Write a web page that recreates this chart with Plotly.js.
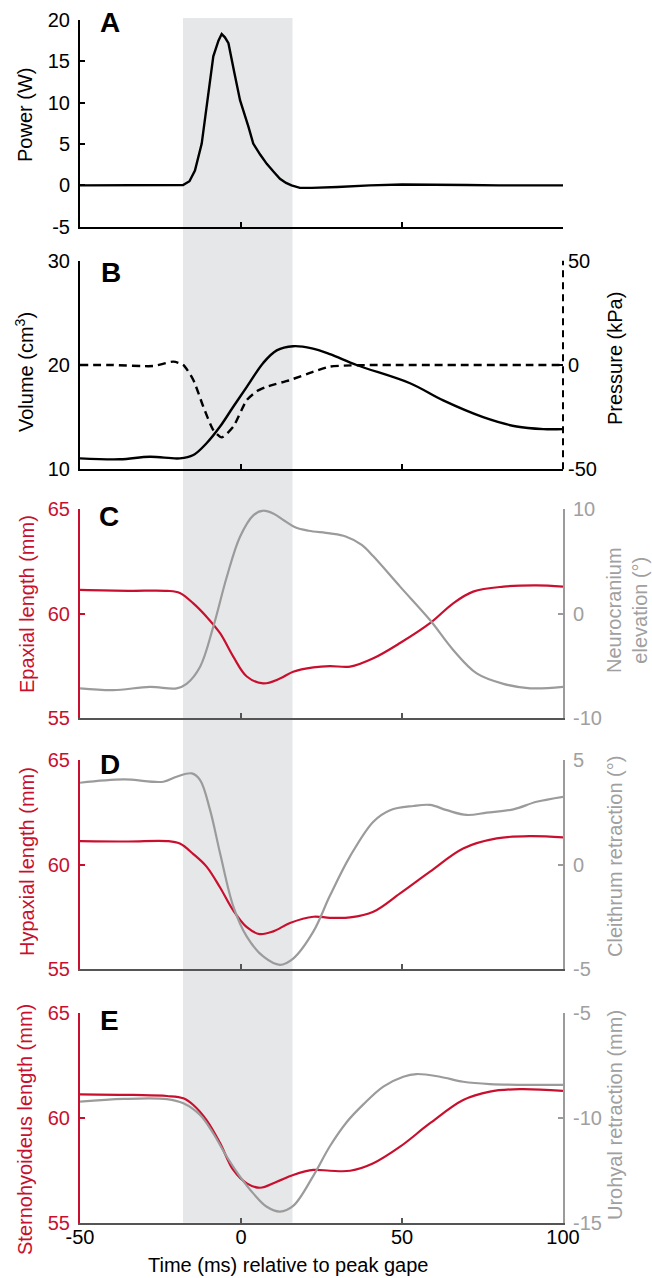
<!DOCTYPE html>
<html>
<head>
<meta charset="utf-8">
<script src="https://cdn.plot.ly/plotly-3.0.1.min.js"></script>
<style>html,body{margin:0;padding:0;background:#fff;}#chart{width:652px;height:1278px;}</style>
</head>
<body>
<div id="chart"></div>
<script>
// ---------- data ----------
// Panel A: power (W)
const tA = [-50,-40,-30,-20,-18,-16,-14.3,-12.2,-10,-8.6,-7,-6,-5,-3.9,-2,-0.3,2.3,3.8,6,8,10,12.1,14,15.7,18.3,22,30,40,50,60,70,80,90,100];
const powerW = [0,0,0,0,0.05,0.5,1.8,5.05,11.5,15.6,17.5,18.3,17.9,17.2,13.5,10.3,7.1,5.05,3.7,2.6,1.7,0.8,0.3,0,-0.3,-0.3,-0.2,0,0.1,0.1,0.05,0,0,0];
// Panel B: volume (cm3) and pressure (kPa)
const tVol = [-50,-37.6,-28.3,-19,-14.8,-10.7,-6.5,-2.4,1.8,6.9,11.1,16.2,22,27.6,35.9,52.5,62.8,75.2,85.6,93.9,100];
const volume = [11.05,10.96,11.2,11.05,11.37,12.5,14.1,16.0,17.9,20.2,21.4,21.8,21.6,21.05,20.0,18.25,16.6,15.0,14.1,13.85,13.85];
const tPres = [-50,-40,-27.3,-21,-17.9,-14.8,-11.7,-8.6,-6,-2.4,1.8,5,8,15.2,22.5,27.6,32,40,50,60,70,80,90,100];
const pressure = [0,0,-0.5,1.6,0,-7.2,-20,-31.2,-34.7,-29.6,-16.8,-12.5,-10.4,-7.2,-3.2,-0.8,-0.3,0,0,0,0,0,0,0];
// Panel C: epaxial length (mm), neurocranium elevation (deg)
const tEpax = [-50,-35,-23,-19,-14.8,-10.7,-6.5,-2.4,1.8,6.9,12.1,16.2,22.5,27.6,33.9,41.1,49.4,58.7,65.9,72.1,81.5,91.8,100];
const epaxial = [61.14,61.1,61.1,61.0,60.5,59.86,59.07,57.95,57.0,56.67,56.9,57.23,57.44,57.5,57.47,57.87,58.6,59.55,60.5,61.06,61.3,61.36,61.3];
const tNeuro = [-50,-39.7,-28.3,-20,-16.9,-12.7,-8.6,-4.4,-0.3,3.9,6.9,10,13.5,17,21,27.6,32.5,37.5,41.1,49.4,58.7,65.9,73.2,81.5,89.8,100];
const neuro = [-7.13,-7.3,-7.0,-7.13,-6.7,-5.06,-1.23,3.55,7.38,9.45,9.87,9.6,8.9,8.25,7.95,7.7,7.4,6.6,5.5,2.6,-0.6,-3.46,-5.7,-6.7,-7.13,-7.0];
// Panel D: hypaxial length (mm), cleithrum retraction (deg)
const tHypax = [-50,-35,-23,-19,-14.8,-10.7,-6.5,-2.4,1.8,5.8,10,15.2,22.5,27.6,33.9,41.1,49.4,58.7,69,79.4,89.8,100];
const hypaxial = [61.12,61.1,61.12,61.0,60.5,59.9,58.9,57.8,57.0,56.67,56.8,57.2,57.5,57.45,57.47,57.74,58.62,59.66,60.77,61.25,61.36,61.3];
const tCleith = [-50,-36.5,-24.1,-20,-15.3,-12.7,-9.6,-6.5,-2.4,1.8,6.9,12.1,16.2,22.5,27.6,33.9,41.1,46.3,53.5,58.7,63.9,70.1,76.3,84.6,91.8,100];
const cleithrum = [3.91,4.07,3.96,4.2,4.36,4.04,2.6,0.54,-2.0,-3.45,-4.4,-4.8,-4.5,-3.2,-1.5,0.4,2.05,2.6,2.8,2.85,2.6,2.37,2.48,2.64,3.0,3.24];
// Panel E: sternohyoideus length (mm), urohyal retraction (mm)
const tStern = [-50,-33.4,-23,-17.9,-14.8,-10.7,-6.5,-2.4,1.8,5.9,11.1,16.2,22.5,27.6,33.9,41.1,49.4,58.7,69,77.3,86.6,100];
const sterno = [61.13,61.1,61.05,60.94,60.62,59.9,58.8,57.52,56.88,56.67,56.96,57.28,57.52,57.48,57.48,57.84,58.63,59.75,60.86,61.26,61.38,61.3];
const tUro = [-50,-36.5,-23,-17.9,-12.7,-8.6,-4.4,-0.3,3.8,8.0,12.1,16.2,22.5,27.6,32.8,38,44.2,50.4,54.5,61.8,69,77.3,100];
const urohyal = [-9.22,-9.09,-9.1,-9.3,-9.86,-10.74,-11.85,-12.8,-13.6,-14.24,-14.47,-14.2,-12.75,-11.35,-10.2,-9.35,-8.5,-8.03,-7.9,-8.03,-8.27,-8.38,-8.42];
// shaded window (ms)
const shadeWindow = [-18, 16];
// ticks
const xTicks = [-50, 0, 50, 100];
const xTickText = ['-50', '0', '50', '100'];
const ticksA = [-5,0,5,10,15,20], ticksAtxt = ['-5','0','5','10','15','20'];
const ticksVol = [10,20,30], ticksPres = [-50,0,50], ticksPresTxt = ['-50','0','50'];
const ticksLen = [55,60,65];
const ticksNeuro = [-10,0,10], ticksNeuroTxt = ['-10','0','10'];
const ticksCleith = [-5,0,5], ticksCleithTxt = ['-5','0','5'];
const ticksUro = [-15,-10,-5], ticksUroTxt = ['-15','-10','-5'];

// ---------- styling ----------
const FONT = 'Liberation Sans, Arial, Helvetica, sans-serif';
const RED = '#C8102E';
const GRAY = '#9B9B9B';
const GRAYTXT = '#A0A0A0';
const BLACK = '#000000';
const FS = 20;
const W = 652, H = 1278, ML = 80, MR = 89, MT = 20, MB = 55;
const PW = W - ML - MR, PH = H - MT - MB;
const px2x = px => (px - ML) / PW;
const py2y = py => (H - MB - py) / PH;
const dom = (top, bottom) => [py2y(bottom), py2y(top)];

const domA = dom(20, 226.7), domB = dom(260.7, 469.3), domC = dom(509.3, 718.3),
      domD = dom(760, 969), domE = dom(1013.3, 1222.7);

function xAx(anchor, labels, color) {
  return {
    domain: [0, 1], anchor: anchor, range: [-50, 100], showgrid: false, zeroline: false,
    showline: true, linecolor: color, linewidth: 2, ticks: 'inside', ticklen: 5, tickwidth: 2,
    tickcolor: color, tickvals: xTicks, ticktext: xTickText, showticklabels: labels,
    tickfont: {family: FONT, size: FS, color: BLACK}, ticklabelstandoff: -5, fixedrange: true
  };
}
function yAx(domain, range, vals, txt, color, tcolor, side, extra) {
  return Object.assign({
    domain: domain, range: range, showgrid: false, zeroline: false, showline: true,
    linecolor: color, linewidth: 2, ticks: 'inside', ticklen: 5, tickwidth: 2, tickcolor: color,
    tickvals: vals, ticktext: txt, side: side,
    tickfont: {family: FONT, size: FS, color: tcolor}, ticklabelstandoff: 4, fixedrange: true
  }, extra || {});
}

const lw = 2.2;
const sp = {shape: 'spline', smoothing: 1};
const traces = [
  {x: tA, y: powerW, xaxis: 'x', yaxis: 'y', mode: 'lines', line: {color: BLACK, width: 2.4}},
  {x: tVol, y: volume, xaxis: 'x2', yaxis: 'y2', mode: 'lines', line: Object.assign({color: BLACK, width: 2.4}, sp)},
  {x: tPres, y: pressure, xaxis: 'x2', yaxis: 'y3', mode: 'lines', line: {color: BLACK, width: 2.4, dash: '8px,5px', shape: 'spline', smoothing: 0.6}},
  {x: tNeuro, y: neuro, xaxis: 'x3', yaxis: 'y5', mode: 'lines', line: Object.assign({color: GRAY, width: lw}, sp)},
  {x: tEpax, y: epaxial, xaxis: 'x3', yaxis: 'y4', mode: 'lines', line: Object.assign({color: RED, width: lw}, sp)},
  {x: tCleith, y: cleithrum, xaxis: 'x4', yaxis: 'y7', mode: 'lines', line: Object.assign({color: GRAY, width: lw}, sp)},
  {x: tHypax, y: hypaxial, xaxis: 'x4', yaxis: 'y6', mode: 'lines', line: Object.assign({color: RED, width: lw}, sp)},
  {x: tUro, y: urohyal, xaxis: 'x5', yaxis: 'y9', mode: 'lines', line: Object.assign({color: GRAY, width: lw}, sp)},
  {x: tStern, y: sterno, xaxis: 'x5', yaxis: 'y8', mode: 'lines', line: Object.assign({color: RED, width: lw}, sp)}
];

const ann = (text, px, py, opts) => Object.assign({
  text: text, xref: 'paper', yref: 'paper', x: px2x(px), y: py2y(py),
  showarrow: false, xanchor: 'center', yanchor: 'middle',
  font: {family: FONT, size: FS, color: BLACK}
}, opts || {});
const letter = (t, px, py) => ann('<b>' + t + '</b>', px, py, {xanchor: 'left', font: {family: FONT, size: 28, color: BLACK}});

const layout = {
  width: W, height: H, margin: {l: ML, r: MR, t: MT, b: MB},
  paper_bgcolor: '#ffffff', plot_bgcolor: 'rgba(0,0,0,0)', showlegend: false,
  font: {family: FONT, size: FS, color: BLACK},
  xaxis: xAx('y', false, BLACK),
  xaxis2: xAx('y2', false, BLACK),
  xaxis3: xAx('y4', false, '#555555'),
  xaxis4: xAx('y6', false, '#555555'),
  xaxis5: xAx('y8', true, '#555555'),
  yaxis: yAx(domA, [-5, 20], ticksA, ticksAtxt, BLACK, BLACK, 'left', {anchor: 'x'}),
  yaxis2: yAx(domB, [10, 30], ticksVol, ['10','20','30'], BLACK, BLACK, 'left', {anchor: 'x2'}),
  yaxis3: yAx(domB, [-50, 50], ticksPres, ticksPresTxt, BLACK, BLACK, 'right', {anchor: 'x2', overlaying: 'y2', showline: false}),
  yaxis4: yAx(domC, [55, 65], ticksLen, ['55','60','65'], RED, RED, 'left', {anchor: 'x3'}),
  yaxis5: yAx(domC, [-10, 10], ticksNeuro, ticksNeuroTxt, GRAY, GRAYTXT, 'right', {anchor: 'x3', overlaying: 'y4'}),
  yaxis6: yAx(domD, [55, 65], ticksLen, ['55','60','65'], RED, RED, 'left', {anchor: 'x4'}),
  yaxis7: yAx(domD, [-5, 5], ticksCleith, ticksCleithTxt, GRAY, GRAYTXT, 'right', {anchor: 'x4', overlaying: 'y6'}),
  yaxis8: yAx(domE, [55, 65], ticksLen, ['55','60','65'], RED, RED, 'left', {anchor: 'x5'}),
  yaxis9: yAx(domE, [-15, -5], ticksUro, ticksUroTxt, GRAY, GRAYTXT, 'right', {anchor: 'x5', overlaying: 'y8'}),
  shapes: [
    {type: 'rect', xref: 'x', yref: 'paper', x0: shadeWindow[0], x1: shadeWindow[1],
     y0: py2y(1222.7), y1: py2y(18), fillcolor: '#E6E7E9', line: {width: 0}, layer: 'below'},
    {type: 'line', xref: 'paper', yref: 'paper', x0: 1, x1: 1, y0: domB[0], y1: domB[1],
     line: {color: BLACK, width: 2, dash: '7px,5px'}}
  ],
  annotations: [
    letter('A', 98, 23), letter('B', 99, 272.5), letter('C', 97, 516.5), letter('D', 98, 764), letter('E', 98, 1020.5),
    ann('Power (W)', 25, 115, {textangle: -90}),
    ann('Volume (cm<sup>3</sup>)', 25, 372, {textangle: -90}),
    ann('Pressure (kPa)', 615, 359, {textangle: -90}),
    ann('Epaxial length (mm)', 27, 604, {textangle: -90, font: {family: FONT, size: FS, color: RED}}),
    ann('Neurocranium<br>elevation (°)', 627, 610, {textangle: -90, font: {family: FONT, size: FS, color: GRAYTXT}}),
    ann('Hypaxial length (mm)', 27, 862, {textangle: -90, font: {family: FONT, size: FS, color: RED}}),
    ann('Cleithrum retraction (°)', 615, 857, {textangle: -90, font: {family: FONT, size: FS, color: GRAYTXT}}),
    ann('Sternohyoideus length (mm)', 25, 1130, {textangle: -90, font: {family: FONT, size: FS, color: RED}}),
    ann('Urohyal retraction (mm)', 615, 1115, {textangle: -90, font: {family: FONT, size: FS, color: GRAYTXT}}),
    ann('Time (ms) relative to peak gape', 287.5, 1265)
  ]
};

Plotly.newPlot('chart', traces, layout, {staticPlot: true, displayModeBar: false});
</script>
</body>
</html>
